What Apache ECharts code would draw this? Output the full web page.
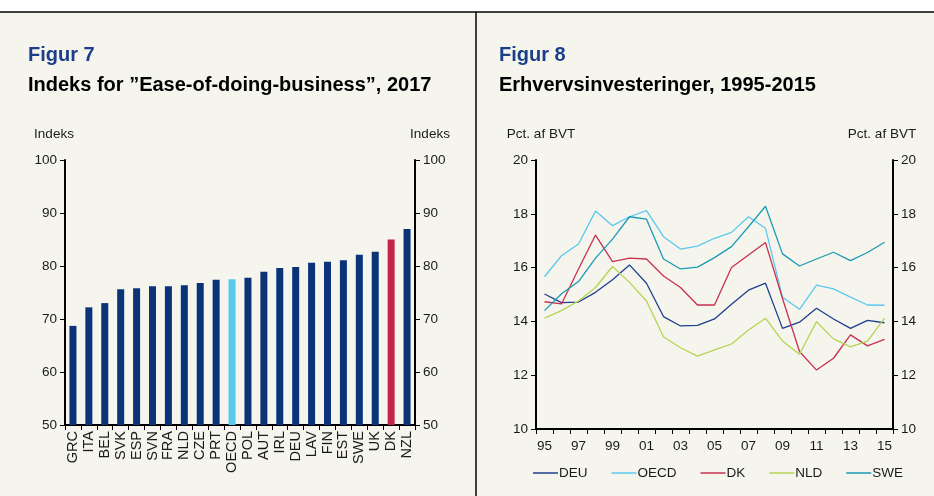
<!DOCTYPE html>
<html>
<head>
<meta charset="utf-8">
<script src="https://cdn.jsdelivr.net/npm/echarts@6/dist/echarts.min.js"></script>
<style>
  html, body { margin: 0; padding: 0; background: #fff; }
  #echart_box { width: 934px; height: 496px; }
</style>
</head>
<body>
<div id="echart_box"></div>
<script>
// Figur 7 - ease of doing business
let countries = ['GRC','ITA','BEL','SVK','ESP','SVN','FRA','NLD','CZE','PRT','OECD','POL','AUT','IRL','DEU','LAV','FIN','EST','SWE','UK','DK','NZL']
let indeks = [68.7, 72.2, 73.0, 75.6, 75.8, 76.2, 76.2, 76.35, 76.8, 77.4, 77.5, 77.8, 78.9, 79.6, 79.8, 80.6, 80.8, 81.1, 82.1, 82.7, 85.0, 87.0]

// Figur 8 - erhvervsinvesteringer
let years = ['95','96','97','98','99','00','01','02','03','04','05','06','07','08','09','10','11','12','13','14','15']
let deu  = [15.02, 14.70, 14.72, 15.08, 15.55, 16.10, 15.42, 14.18, 13.83, 13.85, 14.09, 14.64, 15.16, 15.42, 13.74, 13.97, 14.49, 14.09, 13.74, 14.04, 13.95]
let oecd = [15.66, 16.44, 16.88, 18.10, 17.56, 17.89, 18.12, 17.15, 16.69, 16.80, 17.09, 17.31, 17.89, 17.46, 14.90, 14.45, 15.35, 15.21, 14.90, 14.61, 14.60]
let dk   = [14.73, 14.65, 15.95, 17.21, 16.22, 16.35, 16.32, 15.69, 15.26, 14.61, 14.61, 16.00, 16.47, 16.93, 14.85, 12.88, 12.19, 12.63, 13.50, 13.09, 13.33]
let nld  = [14.12, 14.40, 14.76, 15.26, 16.04, 15.45, 14.76, 13.43, 13.02, 12.71, 12.94, 13.16, 13.68, 14.12, 13.27, 12.78, 13.99, 13.35, 13.05, 13.27, 14.12]
let swe  = [14.40, 15.03, 15.48, 16.35, 17.06, 17.89, 17.80, 16.32, 15.95, 16.02, 16.37, 16.78, 17.52, 18.28, 16.51, 16.06, 16.32, 16.57, 16.26, 16.56, 16.94]

let txt = '#1a1a1a'
let font = 'Liberation Sans, Arial, sans-serif'

function barColor(name){
    if(name === 'OECD') return '#5bc9ec'
    if(name === 'DK') return '#c1264a'
    return '#0b3378'
}

// akse med navn over; pad flytter navnet lidt til siden
function yAx(grid, pos, min, max, interval, name, pad){
    return {
        type: 'value', gridIndex: grid, position: pos, min: min, max: max, interval: interval,
        name: name, nameGap: 19,
        nameTextStyle: { color: txt, fontSize: 13.5, fontFamily: font, padding: pad },
        axisLine: { show: true, lineStyle: { color: '#000', width: 2 } },
        axisTick: { show: true, length: 5, lineStyle: { color: '#000', width: 1 } },
        axisLabel: { color: txt, fontSize: 13.5, fontFamily: font, margin: 8 },
        splitLine: { show: false }
    }
}

let myChart = echarts.init(document.getElementById('echart_box'))
let option = {
    backgroundColor: '#f5f5ed',
    animation: false,
    graphic: [
        { type: 'rect', shape: { x: 0, y: 0, width: 934, height: 12 }, style: { fill: '#fff' } },
        { type: 'line', shape: { x1: 0, y1: 12, x2: 934, y2: 12 }, style: { stroke: '#000', lineWidth: 1.5 } },
        { type: 'line', shape: { x1: 476, y1: 12, x2: 476, y2: 496 }, style: { stroke: '#000', lineWidth: 1.5 } }
    ],
    title: [
        { text: 'Figur 7', left: 23, top: 40, textStyle: { color: '#1b3f8b', fontSize: 20, fontWeight: 'bold', fontFamily: font } },
        { text: 'Indeks for \u201dEase-of-doing-business\u201d, 2017', left: 23, top: 70, textStyle: { color: '#000', fontSize: 20, fontWeight: 'bold', fontFamily: font } },
        { text: 'Figur 8', left: 494, top: 40, textStyle: { color: '#1b3f8b', fontSize: 20, fontWeight: 'bold', fontFamily: font } },
        { text: 'Erhvervsinvesteringer, 1995-2015', left: 494, top: 70, textStyle: { color: '#000', fontSize: 20, fontWeight: 'bold', fontFamily: font } }
    ],
    legend: {
        data: ['DEU','OECD','DK','NLD','SWE'],
        left: 528, top: 461,
        icon: 'rect', itemWidth: 25, itemHeight: 1.5, itemGap: 24,
        textStyle: { color: txt, fontSize: 13.5, fontFamily: font, padding: [0, 0, 0, -4] }
    },
    grid: [
        { left: 65, right: 519, top: 160, bottom: 71 },
        { left: 536, right: 41, top: 160, bottom: 67 }
    ],
    xAxis: [
        {
            type: 'category', gridIndex: 0, data: countries,
            axisLine: { lineStyle: { color: '#000', width: 2 } },
            axisTick: { show: true, length: 5, lineStyle: { color: '#000' } },
            axisLabel: { rotate: 90, color: txt, fontSize: 14.5, fontFamily: font, margin: 6, interval: 0 }
        },
        {
            type: 'category', gridIndex: 1, data: years,
            axisLine: { lineStyle: { color: '#000', width: 2 } },
            axisTick: { show: true, length: 5, interval: 0, lineStyle: { color: '#000' } },
            axisLabel: { color: txt, fontSize: 13.5, fontFamily: font, margin: 10, interval: 1 }
        }
    ],
    yAxis: [
        yAx(0, 'left', 50, 100, 10, 'Indeks', [0, 22, 0, 0]),
        yAx(0, 'right', 50, 100, 10, 'Indeks', [0, 0, 0, 30]),
        yAx(1, 'left', 10, 20, 2, 'Pct. af BVT', [0, 0, 0, 10]),
        yAx(1, 'right', 10, 20, 2, 'Pct. af BVT', [0, 22, 0, 0])
    ],
    series: [
        {
            name: 'Indeks', type: 'bar', xAxisIndex: 0, yAxisIndex: 0, barWidth: 7,
            data: indeks.map((v, i) => ({ value: v, itemStyle: { color: barColor(countries[i]) } }))
        },
        { name: 'DEU', type: 'line', xAxisIndex: 1, yAxisIndex: 2, data: deu, symbol: 'none', lineStyle: { width: 1.3, color: '#1f3f8f' }, itemStyle: { color: '#1f3f8f' } },
        { name: 'OECD', type: 'line', xAxisIndex: 1, yAxisIndex: 2, data: oecd, symbol: 'none', lineStyle: { width: 1.3, color: '#5cc8ef' }, itemStyle: { color: '#5cc8ef' } },
        { name: 'DK', type: 'line', xAxisIndex: 1, yAxisIndex: 2, data: dk, symbol: 'none', lineStyle: { width: 1.3, color: '#c8304e' }, itemStyle: { color: '#c8304e' } },
        { name: 'NLD', type: 'line', xAxisIndex: 1, yAxisIndex: 2, data: nld, symbol: 'none', lineStyle: { width: 1.3, color: '#b5d453' }, itemStyle: { color: '#b5d453' } },
        { name: 'SWE', type: 'line', xAxisIndex: 1, yAxisIndex: 2, data: swe, symbol: 'none', lineStyle: { width: 1.3, color: '#1a9bb5' }, itemStyle: { color: '#1a9bb5' } }
    ]
}
myChart.setOption(option)
</script>
</body>
</html>
